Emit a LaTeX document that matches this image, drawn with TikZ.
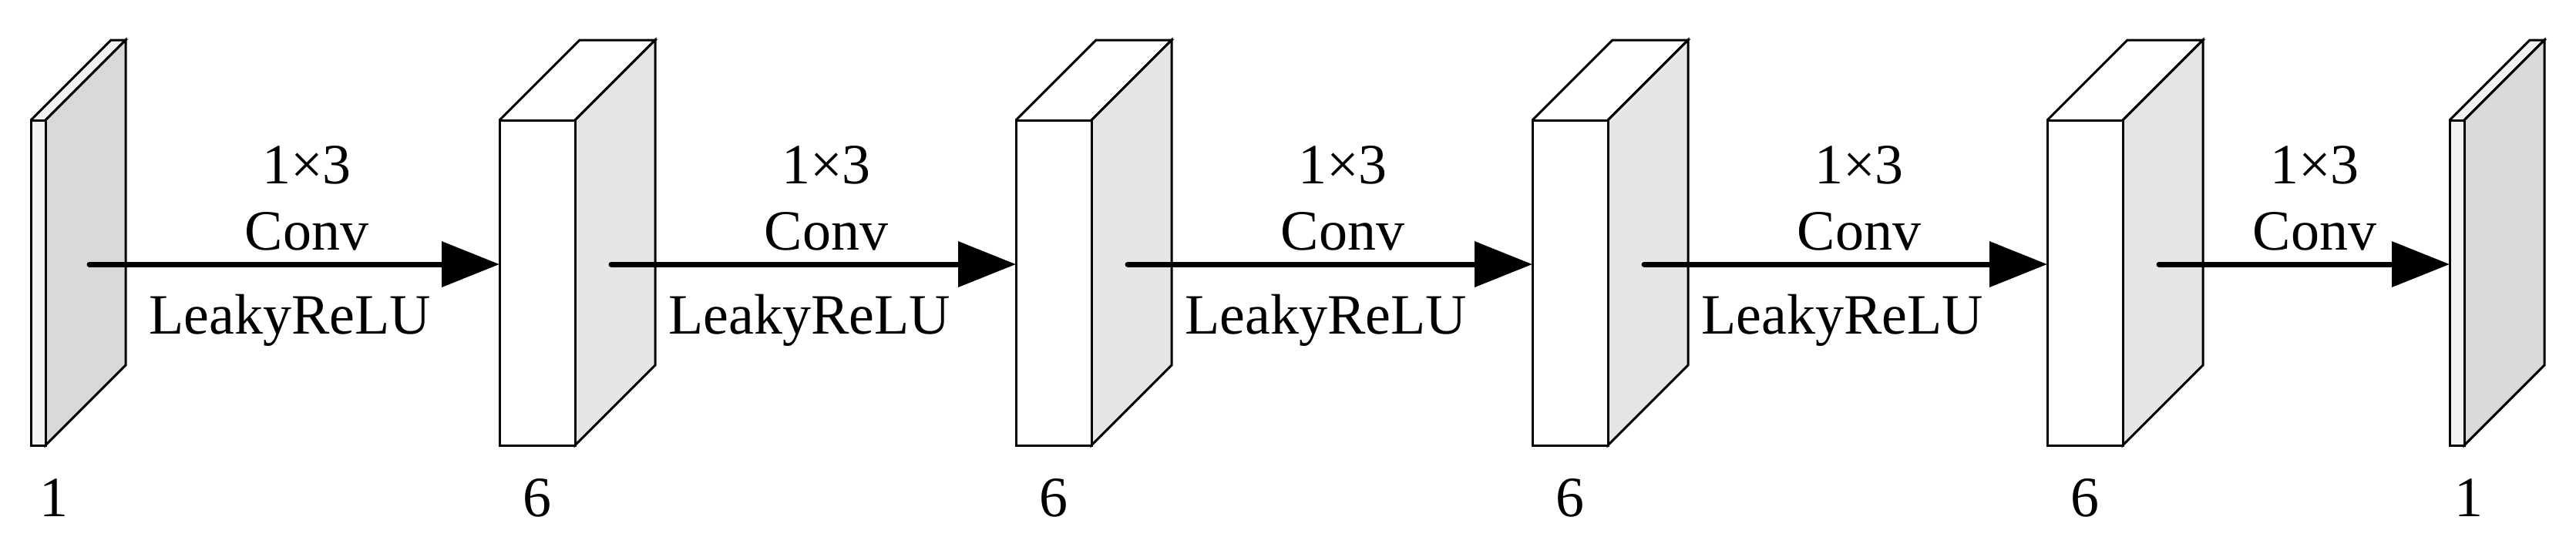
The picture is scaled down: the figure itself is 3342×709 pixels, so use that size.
\documentclass[tikz,border=0pt]{standalone}
\usepackage{fontspec}
\setmainfont{Liberation Serif}
\usetikzlibrary{arrows.meta}
\definecolor{slabF}{HTML}{F2F2F2}
\definecolor{slabS}{HTML}{D9D9D9}
\definecolor{boxS}{HTML}{E6E6E6}
\begin{document}
\begin{tikzpicture}[x=0.3pt,y=-0.3pt,
  face/.style={draw=black,line width=0.9pt,line join=miter},
  front/.style={face,inner sep=0pt,outer sep=0pt,minimum height=126.6pt,anchor=north west},
  lab/.style={font=\fontsize{22.2pt}{26pt}\selectfont,anchor=base,inner sep=0pt},
  arr/.style={line width=2.1pt,line cap=round,-{Triangle[length=22.5pt,width=17.4pt]}}]
\useasboundingbox (0,0) rectangle (3342,709);
% cube macro: #1 left x, #2 width, #3 front fill, #4 side fill, #5 top fill, #6 name
\newcommand\mycube[6]{%
  \pgfmathsetmacro\xa{#1}\pgfmathsetmacro\xb{#1+#2}%
  \pgfmathsetmacro\xc{#1+104}\pgfmathsetmacro\xd{#1+#2+104}%
  \fill[#5] (\xa,156) -- (\xc,52) -- (\xd,52) -- (\xb,156) -- cycle;
  \draw[face] (\xa,156) -- (\xc,52) -- (\xd,52) -- (\xb,156);
  \filldraw[face,fill=#4] (\xb,156) -- (\xd,52) -- (\xd,474) -- (\xb,578) -- cycle;
  \node[front,fill=#3,minimum width=#2*0.3pt] (#6) at (\xa,156) {};
}
\mycube{40}{19}{slabF}{slabS}{slabF}{c0}
\mycube{648}{98}{white}{boxS}{white}{c1}
\mycube{1318}{98}{white}{boxS}{white}{c2}
\mycube{1988}{98}{white}{boxS}{white}{c3}
\mycube{2656}{98}{white}{boxS}{white}{c4}
\mycube{3178}{19}{slabF}{slabS}{slabF}{c5}
% arrows
\coordinate (s1) at (116,343);
\coordinate (s2) at (793,343);
\coordinate (s3) at (1463,343);
\coordinate (s4) at (2133,343);
\coordinate (s5) at (2801,343);
\draw[arr] (s1) -- (s1 -| c1.west);
\draw[arr] (s2) -- (s2 -| c2.west);
\draw[arr] (s3) -- (s3 -| c3.west);
\draw[arr] (s4) -- (s4 -| c4.west);
\draw[arr] (s5) -- (s5 -| c5.west);
% labels
\foreach \m/\n in {398/a,1072/b,1742/c,2412/d}{
  \node[lab] (k\n) at (\m,238) {1×3};
  \node[lab] (v\n) at (\m,324) {Conv};
  \node[lab] (l\n) at (\m-22,433) {LeakyReLU};
}
\node[lab] (ke) at (3003,238) {1×3};
\node[lab] (ve) at (3003,324) {Conv};
\node[lab] (n0) at (70,670) {1};
\node[lab] (n1) at (697,670) {6};
\node[lab] (n2) at (1367,670) {6};
\node[lab] (n3) at (2037,670) {6};
\node[lab] (n4) at (2705,670) {6};
\node[lab] (n5) at (3203,670) {1};
\end{tikzpicture}
\end{document}
